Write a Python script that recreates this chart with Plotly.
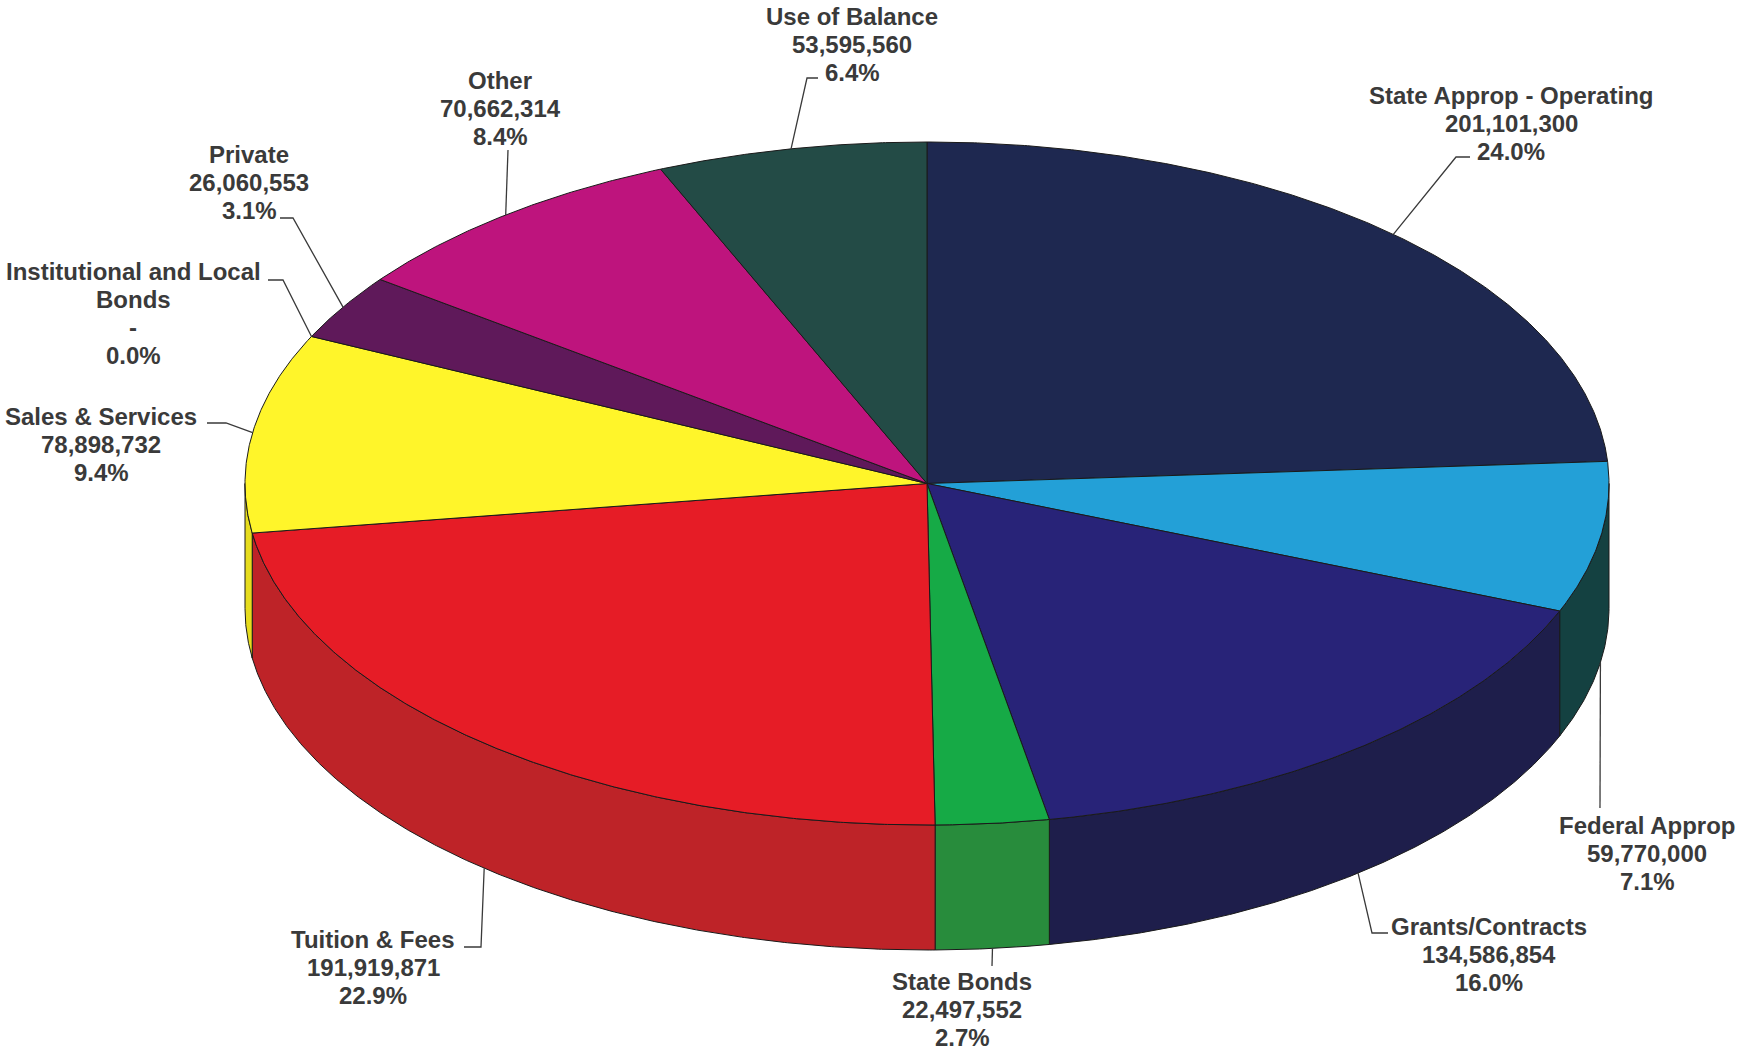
import numpy as np
import plotly.graph_objects as go

# ---- data -------------------------------------------------------------
categories = [
    "State Approp - Operating",
    "Federal Approp",
    "Grants/Contracts",
    "State Bonds",
    "Tuition & Fees",
    "Sales & Services",
    "Institutional and Local|Bonds",
    "Private",
    "Other",
    "Use of Balance",
]
amounts = [
    201101300,
    59770000,
    134586854,
    22497552,
    191919871,
    78898732,
    0,
    26060553,
    70662314,
    53595560,
]
top_colors = [
    "#1e2850", "#23a0d7", "#282378", "#16aa46", "#e61c26",
    "#fff52a", "#7a7a7a", "#5f195a", "#be147d", "#234b46",
]
side_colors = [
    "#161e3c", "#144141", "#1e1e4b", "#288c3c", "#be2328",
    "#e6dc1e", "#5a5a5a", "#461243", "#8e0f5d", "#183633",
]

# ---- geometry of the tilted disc (pixel space) ------------------------
W, H = 1737, 1053
CX, CY = 927.0, 483.5      # centre of the top face
RX, RY = 682.0, 341.5      # semi-axes of the top face
DEPTH = 125.0              # thickness of the disc
LINE_GAP = 28.0            # spacing between label lines
FONT = dict(family="Liberation Sans, Arial, sans-serif", size=24,
            color="#3a3a3a", weight="bold")

# label block centres and leader elbows (layout only)
label_pos = [
    (1511, 123), (1647, 853), (1489, 954), (962, 1009), (373, 967),
    (101, 444), (133, 313), (249, 182), (500, 108), (852, 44),
]
leader_elbows = [
    [(1470, 157), (1456, 157)],
    [(1600, 808)],
    [(1388, 933), (1372, 933)],
    [(992, 966)],
    [(464, 947), (481, 947)],
    [(207, 423), (226, 423)],
    [(268, 280), (283, 280)],
    [(280, 218), (293, 218)],
    [(508, 150)],
    [(818, 78), (807, 78)],
]


def edge(t_deg, drop=0.0):
    t = np.radians(t_deg)
    return CX + RX * np.cos(t), CY - RY * np.sin(t) + drop


def arc(t0, t1, drop=0.0):
    n = max(2, int(abs(t1 - t0) / 0.25) + 2)
    ts = np.linspace(t0, t1, n)
    return edge(ts, drop)


total = float(sum(amounts))
fracs = [v / total for v in amounts]
starts, ends = [], []
t = 90.0
for f in fracs:
    starts.append(t)
    t -= f * 360.0
    ends.append(t)

fig = go.Figure()

# side walls: only the front half (angles between -180 and 0) is visible
for i, (s, e) in enumerate(zip(starts, ends)):
    for lo, hi in [(-180.0, 0.0), (-540.0, -360.0)]:
        a0, a1 = min(s, hi), max(e, lo)
        if a0 - a1 <= 1e-9:
            continue
        xt, yt = arc(a0, a1)
        xb, yb = arc(a1, a0, DEPTH)
        xs = np.concatenate([xt, xb, xt[:1]])
        ys = np.concatenate([yt, yb, yt[:1]])
        fig.add_trace(go.Scatter(
            x=xs, y=ys, mode="lines", fill="toself",
            fillcolor=side_colors[i],
            line=dict(color="#1a1a1a", width=1),
            hoverinfo="skip", showlegend=False,
        ))

# top faces
for i, (s, e) in enumerate(zip(starts, ends)):
    if s - e <= 1e-9:
        continue
    xa, ya = arc(s, e)
    xs = np.concatenate([[CX], xa, [CX]])
    ys = np.concatenate([[CY], ya, [CY]])
    fig.add_trace(go.Scatter(
        x=xs, y=ys, mode="lines", fill="toself",
        fillcolor=top_colors[i],
        line=dict(color="#1a1a1a", width=1),
        name=categories[i].replace("|", " "),
        hoverinfo="name", showlegend=False,
    ))

# leader lines and labels
for i, (s, e) in enumerate(zip(starts, ends)):
    mid = (s + e) / 2.0
    on_front = -180.0 <= mid <= 0.0
    mx, my = edge(mid, DEPTH if on_front else 0.0)
    pts = leader_elbows[i] + [(float(mx), float(my))]
    fig.add_trace(go.Scatter(
        x=[p[0] for p in pts], y=[p[1] for p in pts], mode="lines",
        line=dict(color="#3a3a3a", width=1.3),
        hoverinfo="skip", showlegend=False,
    ))
    value_txt = f"{amounts[i]:,}" if amounts[i] else "-"
    lines = categories[i].split("|") + [value_txt, f"{fracs[i] * 100:.1f}%"]
    lx, ly = label_pos[i]
    n = len(lines)
    for k, line in enumerate(lines):
        fig.add_annotation(
            x=lx, y=ly + (k - (n - 1) / 2.0) * LINE_GAP, text=line,
            showarrow=False, xanchor="center", yanchor="middle",
            align="center", font=FONT,
        )

fig.update_layout(
    width=W, height=H,
    margin=dict(l=0, r=0, t=0, b=0),
    paper_bgcolor="white", plot_bgcolor="white",
    xaxis=dict(range=[0, W], visible=False, fixedrange=True),
    yaxis=dict(range=[H, 0], visible=False, fixedrange=True),
)

fig.write_html("out.html")
